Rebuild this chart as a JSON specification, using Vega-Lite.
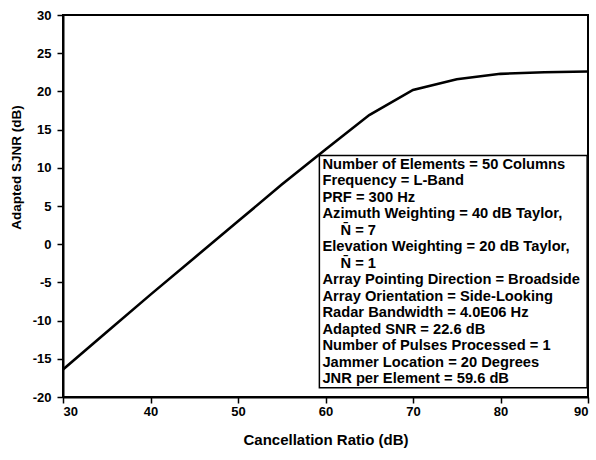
{
  "$schema": "https://vega.github.io/schema/vega-lite/v6.json",
  "width": 525,
  "height": 382,
  "autosize": {"type": "none"},
  "padding": {"left": 63, "top": 15, "right": 8, "bottom": 63},
  "background": "white",
  "config": {
    "font": "Liberation Sans",
    "view": {"stroke": "black", "strokeWidth": 2},
    "axis": {
      "grid": false,
      "domainColor": "black",
      "domainWidth": 2,
      "tickColor": "black",
      "tickWidth": 1.5,
      "tickSize": 6,
      "labelColor": "black",
      "labelFont": "Liberation Sans",
      "labelFontSize": 13,
      "labelFontWeight": "bold",
      "labelOverlap": false,
      "labelExpr": "toString(datum.value)",
      "titleColor": "black",
      "titleFont": "Liberation Sans",
      "titleFontWeight": "bold"
    },
    "text": {"align": "left", "baseline": "top", "font": "Liberation Sans", "fontSize": 14.7, "fontWeight": "bold", "color": "black", "lineHeight": 16.5}
  },
  "datasets": {
    "curve": [
      {"cr": 30, "sjnr": -16.4},
      {"cr": 35, "sjnr": -11.5},
      {"cr": 40, "sjnr": -6.6},
      {"cr": 45, "sjnr": -1.8},
      {"cr": 50, "sjnr": 3.0},
      {"cr": 55, "sjnr": 7.8},
      {"cr": 60, "sjnr": 12.4},
      {"cr": 65, "sjnr": 16.9},
      {"cr": 70, "sjnr": 20.2},
      {"cr": 75, "sjnr": 21.6},
      {"cr": 80, "sjnr": 22.3},
      {"cr": 85, "sjnr": 22.5},
      {"cr": 90, "sjnr": 22.6}
    ],
    "one": [{}]
  },
  "layer": [
    {
      "data": {"name": "curve"},
      "mark": {"type": "line", "color": "black", "strokeWidth": 2.6, "clip": true},
      "encoding": {
        "x": {
          "field": "cr", "type": "quantitative",
          "scale": {"domain": [30, 90], "nice": false, "zero": false},
          "axis": {"values": [30, 40, 50, 60, 70, 80, 90], "title": "Cancellation Ratio (dB)", "labelPadding": 2, "titleFontSize": 15, "titlePadding": 14}
        },
        "y": {
          "field": "sjnr", "type": "quantitative",
          "scale": {"domain": [-20, 30], "nice": false, "zero": false},
          "axis": {"values": [-20, -15, -10, -5, 0, 5, 10, 15, 20, 25, 30], "title": "Adapted SJNR (dB)", "labelPadding": 6, "titleFontSize": 13.5, "titleAngle": -90, "titleAlign": "center", "titleBaseline": "middle", "titleX": -47, "titleY": 152}
        }
      }
    },
    {
      "data": {"name": "one"},
      "mark": {"type": "rect", "fill": "white", "stroke": "black", "strokeWidth": 1.5},
      "encoding": {
        "x": {"datum": 59.3, "type": "quantitative", "scale": {"domain": [30, 90], "nice": false, "zero": false},
          "axis": {"values": [30, 40, 50, 60, 70, 80, 90], "title": "Cancellation Ratio (dB)", "labelPadding": 2, "titleFontSize": 15, "titlePadding": 14}},
        "x2": {"datum": 89.9},
        "y": {"datum": 11.6, "type": "quantitative", "scale": {"domain": [-20, 30], "nice": false, "zero": false},
          "axis": {"values": [-20, -15, -10, -5, 0, 5, 10, 15, 20, 25, 30], "title": "Adapted SJNR (dB)", "labelPadding": 6, "titleFontSize": 13.5, "titleAngle": -90, "titleAlign": "center", "titleBaseline": "middle", "titleX": -47, "titleY": 152}},
        "y2": {"datum": -18.8}
      }
    },
    {
      "data": {"name": "one"},
      "mark": {
        "type": "text",
        "text": [
          "Number of Elements = 50 Columns",
          "Frequency = L-Band",
          "PRF = 300 Hz",
          "Azimuth Weighting = 40 dB Taylor,"
        ]
      },
      "encoding": {
        "x": {"datum": 59.65, "type": "quantitative", "scale": {"domain": [30, 90], "nice": false, "zero": false},
          "axis": {"values": [30, 40, 50, 60, 70, 80, 90], "title": "Cancellation Ratio (dB)", "labelPadding": 2, "titleFontSize": 15, "titlePadding": 14}},
        "y": {"datum": 11.45, "type": "quantitative", "scale": {"domain": [-20, 30], "nice": false, "zero": false},
          "axis": {"values": [-20, -15, -10, -5, 0, 5, 10, 15, 20, 25, 30], "title": "Adapted SJNR (dB)", "labelPadding": 6, "titleFontSize": 13.5, "titleAngle": -90, "titleAlign": "center", "titleBaseline": "middle", "titleX": -47, "titleY": 152}}
      }
    },
    {
      "data": {"name": "one"},
      "mark": {"type": "text", "text": "N\u0304 = 7", "dx": 18},
      "encoding": {
        "x": {"datum": 59.65, "type": "quantitative", "scale": {"domain": [30, 90], "nice": false, "zero": false},
          "axis": {"values": [30, 40, 50, 60, 70, 80, 90], "title": "Cancellation Ratio (dB)", "labelPadding": 2, "titleFontSize": 15, "titlePadding": 14}},
        "y": {"datum": 2.81, "type": "quantitative", "scale": {"domain": [-20, 30], "nice": false, "zero": false},
          "axis": {"values": [-20, -15, -10, -5, 0, 5, 10, 15, 20, 25, 30], "title": "Adapted SJNR (dB)", "labelPadding": 6, "titleFontSize": 13.5, "titleAngle": -90, "titleAlign": "center", "titleBaseline": "middle", "titleX": -47, "titleY": 152}}
      }
    },
    {
      "data": {"name": "one"},
      "mark": {"type": "text", "text": "Elevation Weighting = 20 dB Taylor,"},
      "encoding": {
        "x": {"datum": 59.65, "type": "quantitative", "scale": {"domain": [30, 90], "nice": false, "zero": false},
          "axis": {"values": [30, 40, 50, 60, 70, 80, 90], "title": "Cancellation Ratio (dB)", "labelPadding": 2, "titleFontSize": 15, "titlePadding": 14}},
        "y": {"datum": 0.65, "type": "quantitative", "scale": {"domain": [-20, 30], "nice": false, "zero": false},
          "axis": {"values": [-20, -15, -10, -5, 0, 5, 10, 15, 20, 25, 30], "title": "Adapted SJNR (dB)", "labelPadding": 6, "titleFontSize": 13.5, "titleAngle": -90, "titleAlign": "center", "titleBaseline": "middle", "titleX": -47, "titleY": 152}}
      }
    },
    {
      "data": {"name": "one"},
      "mark": {"type": "text", "text": "N\u0304 = 1", "dx": 18},
      "encoding": {
        "x": {"datum": 59.65, "type": "quantitative", "scale": {"domain": [30, 90], "nice": false, "zero": false},
          "axis": {"values": [30, 40, 50, 60, 70, 80, 90], "title": "Cancellation Ratio (dB)", "labelPadding": 2, "titleFontSize": 15, "titlePadding": 14}},
        "y": {"datum": -1.51, "type": "quantitative", "scale": {"domain": [-20, 30], "nice": false, "zero": false},
          "axis": {"values": [-20, -15, -10, -5, 0, 5, 10, 15, 20, 25, 30], "title": "Adapted SJNR (dB)", "labelPadding": 6, "titleFontSize": 13.5, "titleAngle": -90, "titleAlign": "center", "titleBaseline": "middle", "titleX": -47, "titleY": 152}}
      }
    },
    {
      "data": {"name": "one"},
      "mark": {
        "type": "text",
        "text": [
          "Array Pointing Direction = Broadside",
          "Array Orientation = Side-Looking",
          "Radar Bandwidth = 4.0E06 Hz",
          "Adapted SNR = 22.6 dB",
          "Number of Pulses Processed = 1",
          "Jammer Location = 20 Degrees",
          "JNR per Element = 59.6 dB"
        ]
      },
      "encoding": {
        "x": {"datum": 59.65, "type": "quantitative", "scale": {"domain": [30, 90], "nice": false, "zero": false},
          "axis": {"values": [30, 40, 50, 60, 70, 80, 90], "title": "Cancellation Ratio (dB)", "labelPadding": 2, "titleFontSize": 15, "titlePadding": 14}},
        "y": {"datum": -3.67, "type": "quantitative", "scale": {"domain": [-20, 30], "nice": false, "zero": false},
          "axis": {"values": [-20, -15, -10, -5, 0, 5, 10, 15, 20, 25, 30], "title": "Adapted SJNR (dB)", "labelPadding": 6, "titleFontSize": 13.5, "titleAngle": -90, "titleAlign": "center", "titleBaseline": "middle", "titleX": -47, "titleY": 152}}
      }
    }
  ]
}
